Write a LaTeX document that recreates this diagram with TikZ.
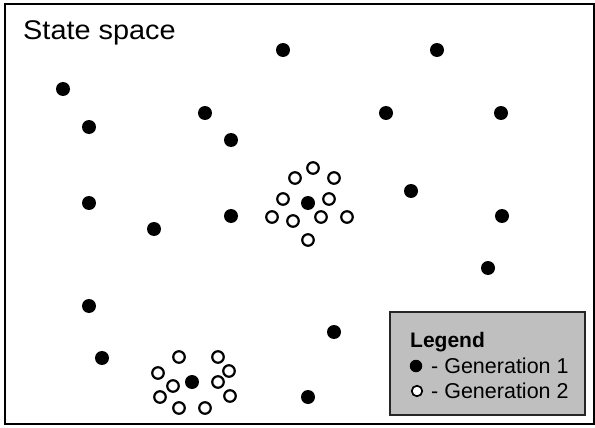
\documentclass[tikz,border=0pt]{standalone}
\usepackage{fontspec}
\setmainfont{Liberation Sans}
\newfontfamily\titlefont[FakeStretch=1.07]{Liberation Sans}
\newfontfamily\legendfont{Liberation Sans}
\begin{document}
\begin{tikzpicture}[x=1pt,y=-1pt,
  genone/.style={circle,fill=black,inner sep=0pt,minimum size=14pt},
  gentwo/.style={circle,draw=black,fill=white,line width=2.2pt,inner sep=0pt,minimum size=11.5pt},
  legdotone/.style={circle,fill=black,inner sep=0pt,minimum size=12.5pt},
  legdottwo/.style={circle,draw=black,fill=white,line width=1.7pt,inner sep=0pt,minimum size=10.5pt},
  legtext/.style={anchor=base west,inner sep=0pt,font=\legendfont\fontsize{21.5}{25}\selectfont}]
\useasboundingbox (0,0) rectangle (595,428);
\draw[line width=1.5pt] (5,4) rectangle (594,424);
\node[anchor=base west,inner sep=0pt,font=\titlefont\fontsize{27}{32}\selectfont] (title) at (23,40) {State space};
% generation 1
\foreach \n/\x/\y in {d1/283/50,d2/437/50,d3/63/89,d4/89/127,d5/205/113,d6/231/140,d7/386/113,d8/501/113,d9/411/191,d10/89/203,d11/154/229,d12/231/216,d13/502/216,d14/488/268,d15/89/306,d16/334/332,d17/102/358,d18/308/397,c1/308/203,c2/192/382}
  \node[genone] (\n) at (\x,\y) {};
% generation 2
\foreach \n/\x/\y in {a1/313/168,a2/295/178,a3/334/178,a4/283/199,a5/329/199,a6/272/217,a7/293/221,a8/321/217,a9/347/217,a10/308/240,
  b1/179/357,b2/218/357,b3/229/371,b4/158/373,b5/173/386,b6/218/382,b7/160/397,b8/230/396,b9/179/408,b10/205/408}
  \node[gentwo] (\n) at (\x,\y) {};
% legend
\draw[fill=black!25,draw=black!85,line width=1.3pt] (390,312) rectangle (585,415);
\node[legtext,font=\legendfont\bfseries\fontsize{21}{25}\selectfont] (legtitle) at (410,347) {Legend};
\node[legdotone] (legone) at (416,366) {};
\node[legtext] (legonetext) at (431,373) {- Generation 1};
\node[legdottwo] (legtwo) at (417,391) {};
\node[legtext] (legtwotext) at (431,398) {- Generation 2};
\end{tikzpicture}
\end{document}
